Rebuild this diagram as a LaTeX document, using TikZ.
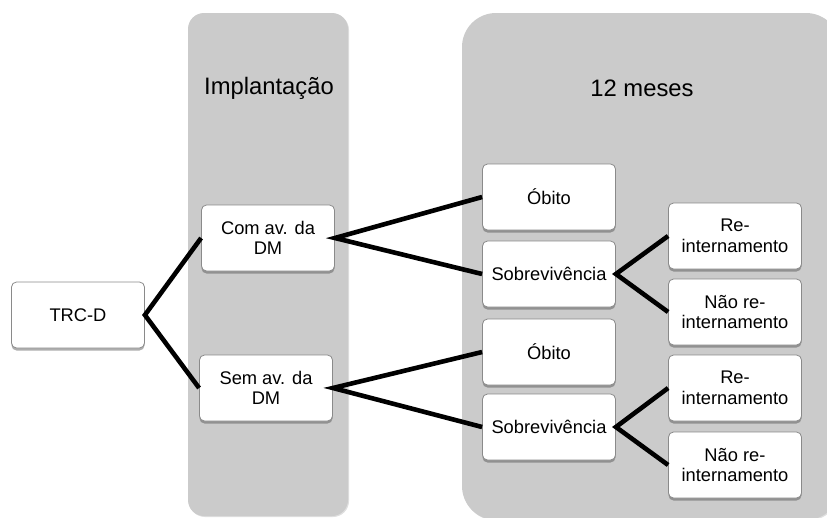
\documentclass[tikz,border=0pt]{standalone}
\usepackage{fontspec}
\setmainfont{Liberation Sans}
\usetikzlibrary{shadows}
\definecolor{panelgray}{HTML}{CBCBCB}
\definecolor{boxline}{HTML}{8A8A8A}
\tikzset{
  panel/.style={fill=panelgray, draw=none, drop shadow={shadow xshift=1pt, shadow yshift=-1pt, opacity=0.25}},
  box/.style={draw=boxline, line width=0.8pt, fill=white, rounded corners=5pt,
    minimum width=133pt, minimum height=66pt, align=center, inner sep=2pt,
    font=\fontsize{18.3}{20.5}\selectfont,
    drop shadow={shadow xshift=0pt, shadow yshift=-2.5pt, opacity=0.45, fill=black!70}},
  title/.style={font=\fontsize{23.8}{26}\selectfont},
  link/.style={line width=4.6pt, line join=miter}
}
\begin{document}
\begin{tikzpicture}[x=1pt,y=-1pt]
\useasboundingbox (0,0) rectangle (827,517);
\begin{scope}
\clip (0,0) rectangle (827,517);
\fill[panel, rounded corners=16pt] (188,13) rectangle (348,516);
\fill[panel, rounded corners=34pt] (462,13) rectangle (840,520);
\end{scope}
\node[title] (t1) at (269,88) {Implantação};
\node[title] (t2) at (642,88) {12 meses};

\node[box] (trc) at (78,315) {TRC-D};
\node[box] (com) at (268,238) {Com av. da\\DM};
\node[box] (sem) at (266,388) {Sem av. da\\DM};
\node[box] (ob1) at (549,197) {Óbito};
\node[box] (so1) at (549,274) {Sobrevivência};
\node[box] (re1) at (735,236) {Re-\\internamento};
\node[box] (nr1) at (735,312) {Não re-\\internamento};
\node[box] (ob2) at (549,352) {Óbito};
\node[box] (so2) at (549,427) {Sobrevivência};
\node[box] (re2) at (735,388) {Re-\\internamento};
\node[box] (nr2) at (735,465) {Não re-\\internamento};

\draw[link] (com.west) -- (trc.east) -- (sem.west);
\draw[link] (ob1.west) -- (com.east) -- (so1.west);
\draw[link] (ob2.west) -- (sem.east) -- (so2.west);
\draw[link] (re1.west) -- (so1.east) -- (nr1.west);
\draw[link] (re2.west) -- (so2.east) -- (nr2.west);
\end{tikzpicture}
\end{document}
